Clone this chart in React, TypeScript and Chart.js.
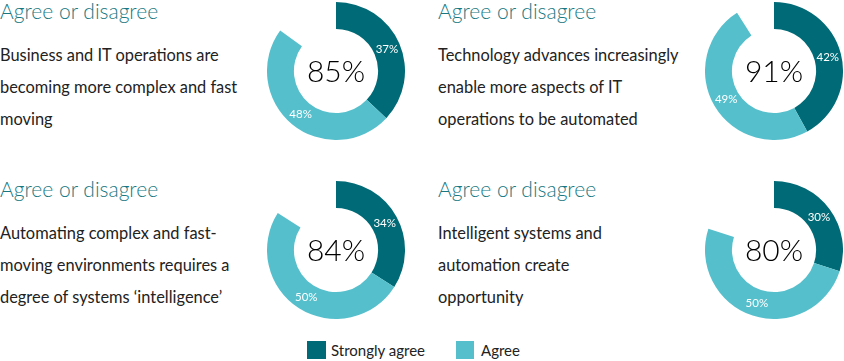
import React, { useEffect, useRef } from "react";
import { Chart, registerables } from "chart.js";

Chart.register(...registerables);

const categories = ["Strongly agree", "Agree"];
const titles = ["Agree or disagree", "Agree or disagree", "Agree or disagree", "Agree or disagree"];
const statements: string[][] = [
  ["Business and IT operations are", "becoming more complex and fast", "moving"],
  ["Technology advances increasingly", "enable more aspects of IT", "operations to be automated"],
  ["Automating complex and fast-", "moving environments requires a", "degree of systems \u2018intelligence\u2019"],
  ["Intelligent systems and", "automation create", "opportunity"],
];
const stronglyAgree = [37, 42, 34, 30];
const agree = [48, 49, 50, 50];
const totals = [85, 91, 84, 80];

const DARK = "#006b76";
const LIGHT = "#55bfcc";
const TITLE = "#177882";
const FONT = "Lato, 'Open Sans', sans-serif";

const panels = [
  { tx: 0, ty: 0, cx: 336, cy: 71 },
  { tx: 438, ty: 0, cx: 774, cy: 71 },
  { tx: 0, ty: 178, cx: 336, cy: 250 },
  { tx: 438, ty: 178, cx: 774, cy: 250 },
];

const R = 69;

function Donut({ idx }: { idx: number }) {
  const ref = useRef<HTMLCanvasElement>(null);
  useEffect(() => {
    if (!ref.current) return;
    const sa = stronglyAgree[idx];
    const a = agree[idx];
    const rest = 100 - sa - a;
    const labelPlugin = {
      id: "labels" + idx,
      afterDatasetsDraw(chart: any) {
        const ctx = chart.ctx;
        const meta = chart.getDatasetMeta(0);
        ctx.save();
        ctx.fillStyle = "#ffffff";
        ctx.font = `400 11.5px ${FONT}`;
        ctx.textAlign = "center";
        ctx.textBaseline = "middle";
        [sa, a].forEach((v, i) => {
          const p = meta.data[i].tooltipPosition();
          ctx.fillText(v + "%", p.x, p.y);
        });
        const ca = chart.chartArea;
        ctx.fillStyle = "#000000";
        ctx.font = `300 30px ${FONT}`;
        ctx.fillText(totals[idx] + "%", (ca.left + ca.right) / 2, (ca.top + ca.bottom) / 2 + 1);
        ctx.restore();
      },
    };
    const chart = new Chart(ref.current, {
      type: "doughnut",
      data: {
        labels: [...categories, ""],
        datasets: [
          {
            data: [sa, a, rest],
            backgroundColor: [DARK, LIGHT, "rgba(0,0,0,0)"],
            borderWidth: 0,
          },
        ],
      },
      options: {
        animation: false,
        responsive: true,
        maintainAspectRatio: false,
        cutout: "61%",
        plugins: { legend: { display: false }, tooltip: { enabled: false } },
        layout: { padding: 0 },
      },
      plugins: [labelPlugin],
    });
    return () => chart.destroy();
  }, [idx]);
  const p = panels[idx];
  return (
    <div
      style={{
        position: "absolute",
        left: p.cx - R,
        top: p.cy - R,
        width: R * 2,
        height: R * 2,
      }}
    >
      <canvas ref={ref} />
    </div>
  );
}

export default function App() {
  return (
    <div
      style={{
        position: "fixed",
        left: 0,
        top: 0,
        width: 844,
        height: 361,
        background: "#ffffff",
        fontFamily: FONT,
        overflow: "hidden",
      }}
    >
      {panels.map((p, i) => (
        <React.Fragment key={i}>
          <div
            style={{
              position: "absolute",
              left: p.tx,
              top: p.ty - 4,
              fontSize: 21,
              fontWeight: 300,
              color: TITLE,
              whiteSpace: "nowrap",
              lineHeight: "30px",
            }}
          >
            {titles[i]}
          </div>
          <div
            style={{
              position: "absolute",
              left: p.tx,
              top: p.ty + 39,
              fontSize: 16.4,
              fontWeight: 400,
              color: "#222222",
              lineHeight: "32px",
              whiteSpace: "nowrap",
            }}
          >
            {statements[i].map((l, j) => (
              <div key={j}>{l}</div>
            ))}
          </div>
          <Donut idx={i} />
        </React.Fragment>
      ))}
      <div style={{ position: "absolute", left: 307, top: 341, display: "flex", alignItems: "center", fontSize: 15, fontWeight: 400, color: "#222222" }}>
        <div style={{ width: 19, height: 18, background: DARK, marginRight: 5 }} />
        <span>{categories[0]}</span>
        <div style={{ width: 18, height: 18, background: LIGHT, marginLeft: 31, marginRight: 7 }} />
        <span>{categories[1]}</span>
      </div>
    </div>
  );
}
